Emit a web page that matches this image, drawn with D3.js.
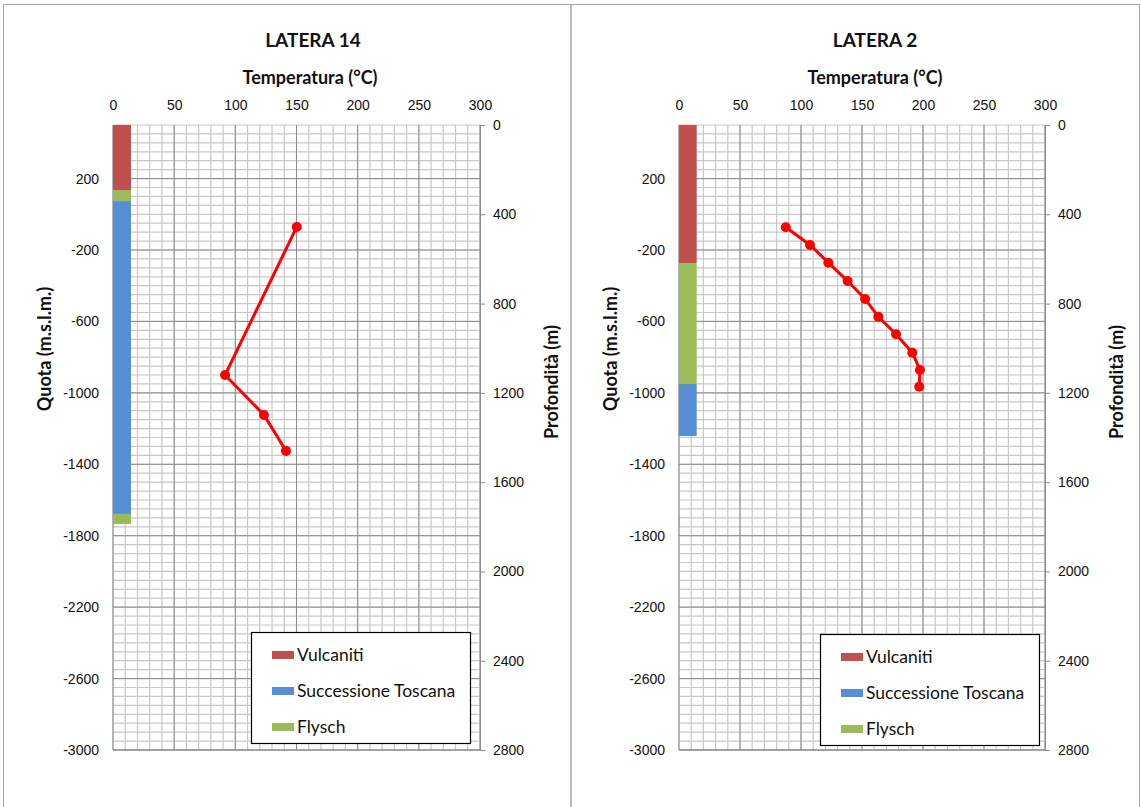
<!DOCTYPE html>
<html><head><meta charset="utf-8">
<script src="https://cdn.jsdelivr.net/npm/d3@7"></script>
<style>
body{margin:0;background:#fff;}
svg{font-family:Lato,"Open Sans",sans-serif;}
</style></head>
<body>
<svg id="c" width="1141" height="807"></svg>
<script>
// ---- data ----
const titles = ["LATERA 14", "LATERA 2"];
const tempTicks = [0, 50, 100, 150, 200, 250, 300];
const quotaTicks = [200, -200, -600, -1000, -1400, -1800, -2200, -2600, -3000];
const depthTicks = [0, 400, 800, 1200, 1600, 2000, 2400, 2800];
const legendNames = ["Vulcaniti", "Successione Toscana", "Flysch"];
const legendColors = ["#c0504d", "#558ed5", "#9bbb59"];

// LATERA 14 temperature profile (°C vs quota m s.l.m.)
const temp14 = [150.2, 91.6, 123.4, 141.4];
const quota14 = [-71, -900, -1124, -1325];
// LATERA 2 temperature profile
const temp2 = [87.5, 107.4, 122.4, 138.2, 152.5, 163.4, 177.9, 191.2, 197.5, 196.9];
const quota2 = [-73, -172, -271, -374, -474, -574, -672, -775, -872, -966];

// stratigraphy: [top quota, bottom quota, formation index, bar width °C]
const layers14 = [[500, 136, 0, 14.7], [136, 74, 2, 14.7], [74, -1678, 1, 14.7], [-1678, -1734, 2, 14.7]];
const layers2 = [[500, -273, 0, 14.5], [-273, -950, 2, 14.5], [-950, -1242, 1, 14.5], [-1690, -1751, 2, 0.8]];

// ---- drawing ----
const svg = d3.select("#c");
svg.append("rect").attr("x", 3.5).attr("y", 4.5).attr("width", 567.5).attr("height", 803).attr("fill", "none").attr("stroke", "#a6a6a6");
svg.append("rect").attr("x", 571).attr("y", 4.5).attr("width", 568.5).attr("height", 803).attr("fill", "none").attr("stroke", "#a6a6a6");

const fmt = d => String(d);
const panels = [
  {title: titles[0], x0: 113, x1: 480, temps: temp14, quotas: quota14, layers: layers14, cx: 313, tx: 310, legend: [251, 632]},
  {title: titles[1], x0: 679, x1: 1045, temps: temp2, quotas: quota2, layers: layers2, cx: 875, tx: 875, legend: [820, 634]}
];
const yTop = 125, yBot = 750;

panels.forEach(p => {
  const g = svg.append("g");
  const x = d3.scaleLinear().domain([0, 300]).range([p.x0, p.x1]);
  const yq = d3.scaleLinear().domain([-3000, 500]).range([yBot, yTop]);
  const yd = d3.scaleLinear().domain([0, 2800]).range([yTop, yBot]);

  const minorX = d3.range(0, 301, 10);
  const minorY = d3.range(-3000, 501, 50);
  g.append("g").selectAll("line").data(minorX).join("line")
    .attr("x1", d => x(d)).attr("x2", d => x(d)).attr("y1", yTop).attr("y2", yBot)
    .attr("stroke", "#c8c8c8").attr("stroke-width", 1.2);
  g.append("g").selectAll("line").data(minorY).join("line")
    .attr("y1", d => yq(d)).attr("y2", d => yq(d)).attr("x1", p.x0).attr("x2", p.x1)
    .attr("stroke", "#c8c8c8").attr("stroke-width", 1.2);
  g.append("g").selectAll("line").data(tempTicks).join("line")
    .attr("x1", d => x(d)).attr("x2", d => x(d)).attr("y1", yTop).attr("y2", yBot)
    .attr("stroke", "#8c8c8c").attr("stroke-width", 1);
  g.append("g").selectAll("line").data(quotaTicks).join("line")
    .attr("y1", d => yq(d)).attr("y2", d => yq(d)).attr("x1", p.x0).attr("x2", p.x1)
    .attr("stroke", "#8c8c8c").attr("stroke-width", 1);
  g.append("line").attr("x1", p.x0).attr("x2", p.x1).attr("y1", yBot).attr("y2", yBot).attr("stroke", "#8c8c8c");

  g.append("g").selectAll("rect").data(p.layers).join("rect")
    .attr("x", x(0)).attr("width", d => x(d[3]) - x(0))
    .attr("y", d => yq(d[0])).attr("height", d => yq(d[1]) - yq(d[0]))
    .attr("fill", d => legendColors[d[2]]);

  const ax = d3.axisTop(x).tickValues(tempTicks).tickFormat(fmt).tickSize(0).tickPadding(0);
  const gx = g.append("g").attr("transform", `translate(0,${yTop - 15})`).call(ax);
  gx.select(".domain").remove();
  gx.selectAll("text").attr("font-size", 14).attr("fill", "#111").attr("dy", 0);

  const ay = d3.axisLeft(yq).tickValues(quotaTicks).tickFormat(fmt).tickSize(0).tickPadding(14);
  const gy = g.append("g").attr("transform", `translate(${p.x0},0)`).call(ay);
  gy.select(".domain").remove();
  gy.selectAll("text").attr("font-size", 14).attr("fill", "#111");

  const ad = d3.axisRight(yd).tickValues(depthTicks).tickFormat(fmt).tickSize(5).tickPadding(8);
  const gd = g.append("g").attr("transform", `translate(${p.x1},0)`).call(ad);
  gd.select(".domain").attr("stroke", "#8c8c8c");
  gd.selectAll(".tick line").attr("stroke", "#8c8c8c");
  gd.selectAll("text").attr("font-size", 14).attr("fill", "#111");

  g.append("text").attr("x", p.cx).attr("y", 47).attr("text-anchor", "middle")
    .attr("font-size", 19).attr("font-weight", "bold").attr("fill", "#111").text(p.title);
  g.append("text").attr("x", p.tx).attr("y", 84).attr("text-anchor", "middle")
    .attr("font-size", 18).attr("font-weight", "bold").attr("fill", "#111").text("Temperatura (°C)");
  g.append("text").attr("transform", `translate(${p.x0 - 62},349) rotate(-90)`)
    .attr("text-anchor", "middle").attr("font-size", 18).attr("font-weight", "bold").attr("fill", "#111")
    .text("Quota (m.s.l.m.)");
  g.append("text").attr("transform", `translate(${p.x1 + 78},382) rotate(-90)`)
    .attr("text-anchor", "middle").attr("font-size", 18).attr("font-weight", "bold").attr("fill", "#111")
    .text("Profondità (m)");

  const pts = p.temps.map((t, i) => [t, p.quotas[i]]);
  g.append("path").datum(pts)
    .attr("d", d3.line().x(d => x(d[0])).y(d => yq(d[1])))
    .attr("fill", "none").attr("stroke", "#ff0000").attr("stroke-width", 3);
  g.append("g").selectAll("circle").data(pts).join("circle")
    .attr("cx", d => x(d[0])).attr("cy", d => yq(d[1])).attr("r", 5).attr("fill", "#ff0000");

  const [lx, ly] = p.legend;
  const lg = g.append("g").attr("transform", `translate(${lx},${ly})`);
  lg.append("rect").attr("x", 0.5).attr("y", 0.5).attr("width", 219).attr("height", 111)
    .attr("fill", "#fff").attr("stroke", "#000").attr("stroke-width", 1.2);
  legendNames.forEach((n, i) => {
    lg.append("rect").attr("x", 21).attr("y", 19 + i * 36).attr("width", 22).attr("height", 8).attr("fill", legendColors[i]);
    lg.append("text").attr("x", 46).attr("y", 23 + i * 36).attr("dy", "0.35em")
      .attr("font-size", 17.5).attr("fill", "#111").text(n);
  });
});
</script>
</body></html>
